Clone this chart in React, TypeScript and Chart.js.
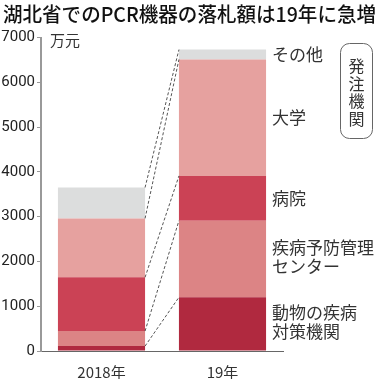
import { useEffect, useRef } from "react";
import { Chart, registerables } from "chart.js";

Chart.register(...registerables);

const categories = ["2018年", "19年"];
const seriesNames = [
  ["動物の疾病", "対策機関"],
  ["疾病予防管理", "センター"],
  ["病院"],
  ["大学"],
  ["その他"],
];
const animalCenter = [110, 1200];
const cdc = [335, 1710];
const hospital = [1200, 1000];
const university = [1315, 2600];
const other = [690, 220];
const seriesValues = [animalCenter, cdc, hospital, university, other];
const seriesColors = ["#b0293f", "#dc8485", "#cb4255", "#e6a19f", "#dcdddd"];
const yTicks = [0, 1000, 2000, 3000, 4000, 5000, 6000, 7000];
const titleText = "湖北省でのPCR機器の落札額は19年に急増";
const unitText = "万元";
const boxText = ["発", "注", "機", "関"];

const FONT = '"Noto Sans CJK JP", "Noto Sans", sans-serif';
const NUMFONT = 'Roboto, "Noto Sans CJK JP", sans-serif';

const overlayPlugin = {
  id: "overlay",
  afterDatasetsDraw(chart: any) {
    const ctx = chart.ctx as CanvasRenderingContext2D;
    const metas = chart.data.datasets.map((_: any, i: number) => chart.getDatasetMeta(i));
    // dashed connectors
    ctx.save();
    ctx.strokeStyle = "#555";
    ctx.lineWidth = 1;
    ctx.setLineDash([3, 2]);
    metas.forEach((m: any) => {
      const a = m.data[0];
      const b = m.data[1];
      ctx.beginPath();
      ctx.moveTo(a.x + a.width / 2, a.y);
      ctx.lineTo(b.x - b.width / 2, b.y);
      ctx.stroke();
    });
    ctx.restore();

    // right labels
    ctx.save();
    ctx.fillStyle = "#333";
    ctx.font = `17px ${FONT}`;
    ctx.textAlign = "left";
    ctx.textBaseline = "middle";
    metas.forEach((m: any, i: number) => {
      const b = m.data[1];
      const mid = (b.y + b.base) / 2;
      const lines = seriesNames[i];
      const lh = 19;
      const start = mid - ((lines.length - 1) * lh) / 2 - (lines.length > 1 ? 2 : 0);
      lines.forEach((t, k) => {
        ctx.fillText(t, b.x + b.width / 2 + 6, start + k * lh);
      });
    });
    ctx.restore();

    // title
    ctx.save();
    ctx.fillStyle = "#111";
    ctx.font = `500 20px ${FONT}`;
    ctx.textAlign = "left";
    ctx.textBaseline = "middle";
    ctx.fillText(titleText, 3, 14, 373);
    ctx.restore();

    // unit
    const yScale = chart.scales.y;
    const xScale = chart.scales.x;
    ctx.save();
    ctx.fillStyle = "#333";
    ctx.font = `15px ${FONT}`;
    ctx.textAlign = "left";
    ctx.textBaseline = "middle";
    ctx.fillText(unitText, xScale.left + 9, yScale.getPixelForValue(7000) + 3);
    ctx.restore();

    // box
    ctx.save();
    ctx.strokeStyle = "#666";
    ctx.lineWidth = 1;
    const bx = 340.5, by = 43.5, bw = 32, bh = 95;
    ctx.beginPath();
    (ctx as any).roundRect(bx, by, bw, bh, 9);
    ctx.stroke();
    ctx.fillStyle = "#333";
    ctx.font = `16px ${FONT}`;
    ctx.textAlign = "center";
    ctx.textBaseline = "middle";
    boxText.forEach((c, k) => {
      ctx.fillText(c, bx + bw / 2, 66 + k * 17.5);
    });
    ctx.restore();
  },
};

export default function App() {
  const ref = useRef<HTMLCanvasElement | null>(null);
  useEffect(() => {
    if (!ref.current) return;
    const chart = new Chart(ref.current, {
      type: "bar",
      data: {
        labels: categories,
        datasets: seriesValues.map((v, i) => ({
          label: seriesNames[i].join(""),
          data: v,
          backgroundColor: seriesColors[i],
          borderWidth: 0,
          barPercentage: 0.72,
          categoryPercentage: 1,
        })),
      },
      options: {
        responsive: false,
        animation: false,
        layout: { padding: { left: 0, right: 96, top: 37.5, bottom: 0 } },
        plugins: {
          legend: { display: false },
          title: { display: false },
          tooltip: { enabled: false },
        },
        scales: {
          x: {
            stacked: true,
            grid: { display: false },
            border: { color: "#666", width: 1 },
            ticks: { color: "#333", font: { family: FONT, size: 15 }, padding: 4 },
            afterFit: (s: any) => {
              s.height = 28;
            },
          },
          y: {
            stacked: true,
            min: 0,
            max: 7000,
            afterBuildTicks: (s: any) => {
              s.ticks = yTicks.map((v) => ({ value: v }));
            },
            grid: { drawOnChartArea: false, drawTicks: true, tickLength: 4, color: "#999", lineWidth: 1 },
            border: { color: "#999", width: 2 },
            ticks: {
              color: "#222",
              font: { family: NUMFONT, size: 15 },
              padding: 2,
              callback: (v: any) => String(v),
            },
            afterFit: (s: any) => {
              s.width = 41;
            },
          },
        },
      },
      plugins: [overlayPlugin],
    });
    return () => chart.destroy();
  }, []);
  return (
    <div style={{ position: "fixed", left: 0, top: 0, width: 379, height: 379, background: "#fff" }}>
      <canvas ref={ref} width={379} height={379} />
    </div>
  );
}
